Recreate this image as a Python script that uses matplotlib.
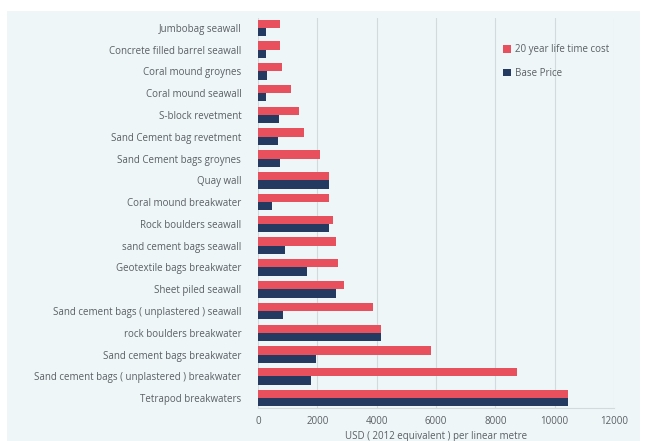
import numpy as np
import matplotlib.pyplot as plt
from matplotlib.patches import Rectangle

plt.rcParams['font.family'] = ['Open Sans', 'DejaVu Sans']

# structure types, top to bottom as shown
categories = [
    'Jumbobag seawall',
    'Concrete filled barrel seawall',
    'Coral mound groynes',
    'Coral mound seawall',
    'S-block revetment',
    'Sand Cement bag revetment',
    'Sand Cement bags groynes',
    'Quay wall',
    'Coral mound breakwater',
    'Rock boulders seawall',
    'sand cement bags seawall',
    'Geotextile bags breakwater',
    'Sheet piled seawall',
    'Sand cement bags ( unplastered ) seawall',
    'rock boulders breakwater',
    'Sand cement bags breakwater',
    'Sand cement bags ( unplastered ) breakwater',
    'Tetrapod breakwaters',
]
lifetime_cost = [740, 740, 800, 1100, 1380, 1550, 2100, 2400, 2400, 2520,
                 2620, 2690, 2900, 3880, 4150, 5830, 8730, 10450]
base_price = [270, 270, 300, 270, 700, 670, 740, 2400, 470, 2400,
              900, 1650, 2620, 830, 4150, 1960, 1790, 10450]
xticks = [0, 2000, 4000, 6000, 8000, 10000, 12000]

red = '#e8505e'
navy = '#243a60'
bg = '#eef6f8'
txt = '#5a5f63'

fig = plt.figure(figsize=(6.5, 4.41), dpi=100)
fig.patch.set_facecolor('white')
fig.patches.append(Rectangle((7 / 650, 0), 633 / 650, 1 - 11 / 441,
                             transform=fig.transFigure, facecolor=bg,
                             edgecolor='none', zorder=-5))

ax = fig.add_axes([258 / 650, 1 - 408 / 441, 356 / 650, 390 / 441])
ax.set_zorder(2)
ax.set_facecolor(bg)

y = np.arange(len(categories))
h = 0.38
ax.barh(y - h / 2, lifetime_cost, height=h, color=red, label='20 year life time cost', zorder=3)
ax.barh(y + h / 2, base_price, height=h, color=navy, label='Base Price', zorder=3)

ax.set_ylim(len(categories) - 0.55, -0.45)
ax.set_xlim(0, 12000)
ax.set_yticks(y)
ax.set_yticklabels(categories, fontsize=7, color=txt)
ax.set_xticks(xticks)
ax.set_xticklabels([str(t) for t in xticks], fontsize=7, color=txt)
ax.tick_params(length=0, pad=6)
ax.tick_params(axis='y', pad=12)
ax.xaxis.grid(True, color='#d3dadd', linewidth=0.8, zorder=0)
ax.set_axisbelow(True)
for s in ['top', 'right', 'left']:
    ax.spines[s].set_visible(False)
ax.spines['bottom'].set_color('#d3dadd')
ax.set_xlabel('USD ( 2012 equivalent ) per linear metre', fontsize=7, color=txt, labelpad=3)

ax.legend(loc='upper left', bbox_to_anchor=(0.663, 0.955), frameon=False,
          fontsize=7, labelcolor=txt, handlelength=0.8, handleheight=0.8,
          handletextpad=0.5, labelspacing=1.3)

fig.savefig('out.png', dpi=100, facecolor='white')
